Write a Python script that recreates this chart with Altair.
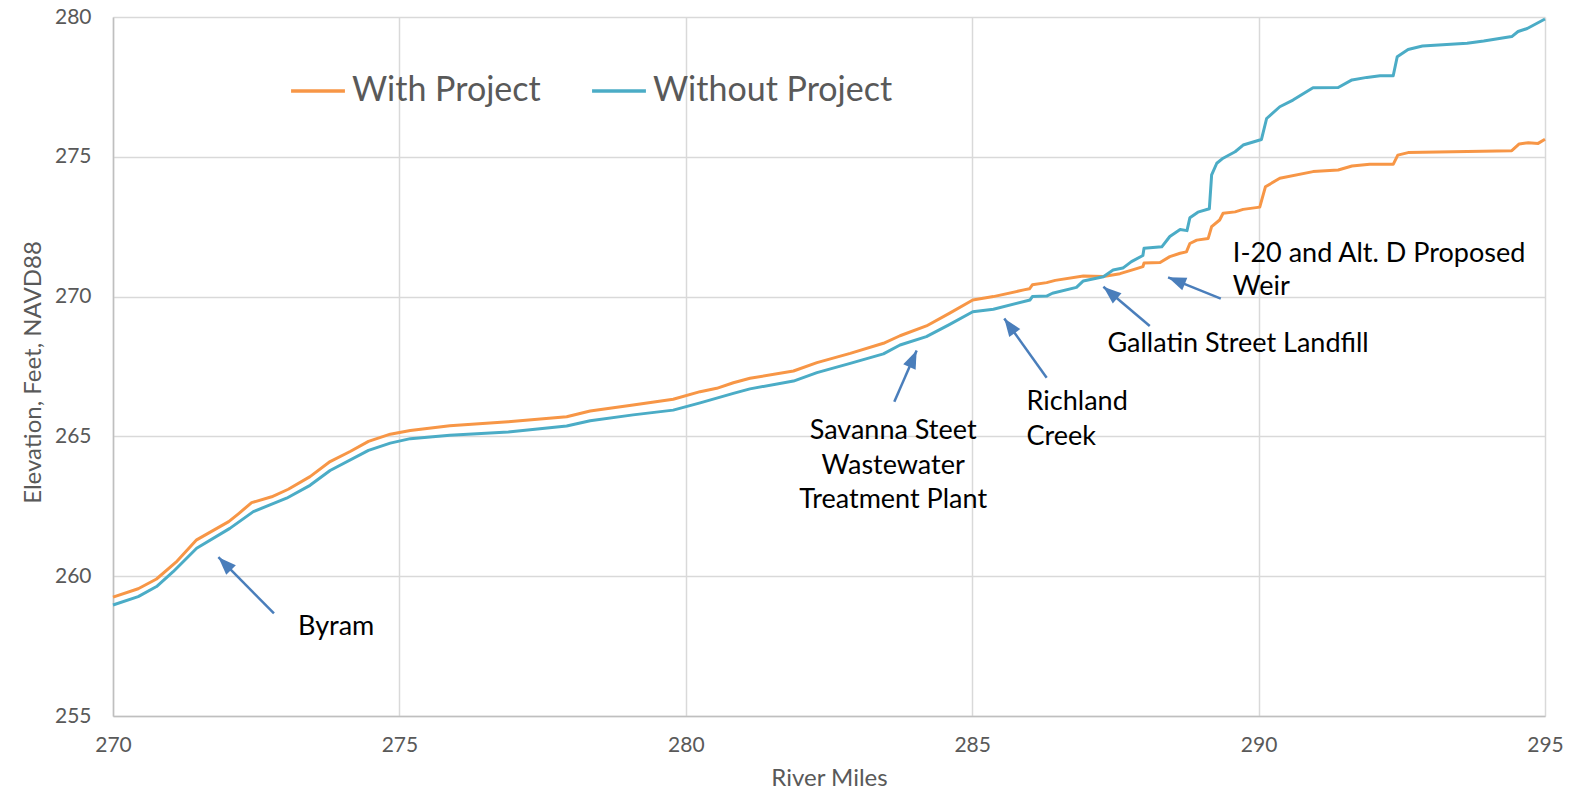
import math
import altair as alt
import pandas as pd

# ---------------- data ----------------
with_miles = [270.0, 270.44, 270.76, 271.1, 271.46, 272.02, 272.2, 272.42, 272.77, 273.06,
              273.44, 273.79, 274.14, 274.46, 274.84, 275.19, 275.88, 276.9, 277.92, 278.33,
              279.08, 279.78, 280.25, 280.54, 280.83, 281.12, 281.88, 282.29, 282.87, 283.45,
              283.74, 284.2, 284.6, 285.01, 285.37, 285.9, 286.0, 286.05, 286.3, 286.45,
              286.94, 287.29, 287.58, 287.87, 287.98, 288.0, 288.28, 288.45, 288.63, 288.74,
              288.8, 288.92, 289.12, 289.18, 289.32, 289.38, 289.59, 289.73, 290.02, 290.12,
              290.37, 290.95, 291.39, 291.63, 291.94, 292.35, 292.43, 292.61, 294.42, 294.55,
              294.71, 294.88, 295.0]
with_elev = [259.25, 259.55, 259.9, 260.5, 261.3, 261.95, 262.25, 262.63, 262.84, 263.11,
             263.56, 264.1, 264.46, 264.82, 265.08, 265.21, 265.38, 265.52, 265.7, 265.91,
             266.12, 266.33, 266.6, 266.72, 266.92, 267.08, 267.34, 267.64, 267.97, 268.33,
             268.6, 268.95, 269.4, 269.88, 270.0, 270.24, 270.28, 270.42, 270.5, 270.58,
             270.74, 270.72, 270.82, 271.0, 271.07, 271.2, 271.22, 271.43, 271.55, 271.6,
             271.9, 272.02, 272.08, 272.5, 272.74, 272.98, 273.03, 273.12, 273.2, 273.93,
             274.23, 274.47, 274.53, 274.67, 274.73, 274.73, 275.06, 275.15, 275.22, 275.46,
             275.5, 275.48, 275.63]

without_miles = [270.0, 270.44, 270.76, 271.05, 271.46, 272.04, 272.45, 272.74, 273.03, 273.44,
                 273.79, 274.46, 274.84, 275.19, 275.88, 276.9, 277.92, 278.33, 279.08, 279.78,
                 280.25, 280.83, 281.12, 281.88, 282.29, 282.87, 283.45, 283.74, 284.2, 284.6,
                 285.01, 285.37, 286.01, 286.05, 286.3, 286.4, 286.82, 286.94, 287.29, 287.46,
                 287.63, 287.78, 287.98, 288.0, 288.31, 288.45, 288.63, 288.75, 288.8, 288.94,
                 289.14, 289.18, 289.27, 289.38, 289.59, 289.73, 290.05, 290.14, 290.37, 290.6,
                 290.95, 291.39, 291.63, 291.89, 292.12, 292.35, 292.42, 292.61, 292.86, 293.64,
                 293.93, 294.42, 294.53, 294.69, 295.0]
without_elev = [258.97, 259.27, 259.63, 260.16, 261.0, 261.71, 262.31, 262.55, 262.79, 263.25,
                263.78, 264.5, 264.76, 264.92, 265.04, 265.16, 265.37, 265.56, 265.77, 265.94,
                266.2, 266.54, 266.7, 266.98, 267.28, 267.61, 267.95, 268.27, 268.57, 269.0,
                269.46, 269.55, 269.88, 270.0, 270.02, 270.12, 270.33, 270.56, 270.71, 270.95,
                271.02, 271.25, 271.47, 271.73, 271.78, 272.15, 272.4, 272.36, 272.82, 273.02,
                273.14, 274.35, 274.77, 274.95, 275.18, 275.42, 275.62, 276.37, 276.79, 277.03,
                277.47, 277.48, 277.75, 277.84, 277.9, 277.9, 278.58, 278.84, 278.96, 279.06,
                279.14, 279.3, 279.48, 279.59, 279.93]

series_names = ["With Project", "Without Project"]
series_colors = ["#F79646", "#4BACC6"]

x_ticks = [270, 275, 280, 285, 290, 295]
y_ticks = [255, 260, 265, 270, 275, 280]

# annotation arrows (tail -> head) in data units
arrow_tail_mile = [272.81, 283.64, 286.30, 288.10, 289.34]
arrow_tail_elev = [258.67, 266.24, 267.10, 268.95, 269.93]
arrow_head_mile = [271.84, 284.03, 285.56, 287.29, 288.42]
arrow_head_elev = [260.68, 268.07, 269.22, 270.35, 270.69]

# annotation text lines
left_labels = ["Byram", "Richland", "Creek", "Gallatin Street Landfill",
               "I-20 and Alt. D Proposed", "Weir"]
left_mile = [273.23, 285.95, 285.95, 287.36, 289.55, 289.55]
left_elev = [258.2, 266.24, 264.97, 268.3, 271.52, 270.33]

center_labels = ["Savanna Steet", "Wastewater", "Treatment Plant"]
center_mile = [283.62, 283.62, 283.62]
center_elev = [265.18, 263.93, 262.74]

# ---------------- layout constants ----------------
W, H = 1432, 699
FONT = "Lato"
GRAY = "#595959"
ARROW = "#4A7EBB"

# ---------------- tables ----------------
lines_df = pd.concat([
    pd.DataFrame({"mile": with_miles, "elev": with_elev, "series": series_names[0]}),
    pd.DataFrame({"mile": without_miles, "elev": without_elev, "series": series_names[1]}),
], ignore_index=True)

px_per_mile = W / 25.0
px_per_ft = H / 25.0
angles = []
for tm, te, hm, he in zip(arrow_tail_mile, arrow_tail_elev, arrow_head_mile, arrow_head_elev):
    dx = (hm - tm) * px_per_mile
    dy = -(he - te) * px_per_ft  # screen coords (down positive)
    ang = math.degrees(math.atan2(dx, -dy)) % 360
    angles.append(ang)

arrows_df = pd.DataFrame({
    "tm": arrow_tail_mile, "te": arrow_tail_elev,
    "hm": arrow_head_mile, "he": arrow_head_elev, "angle": angles,
})
left_df = pd.DataFrame({"label": left_labels, "mile": left_mile, "elev": left_elev})
center_df = pd.DataFrame({"label": center_labels, "mile": center_mile, "elev": center_elev})

xscale = alt.Scale(domain=[270, 295], nice=False, zero=False)
yscale = alt.Scale(domain=[255, 280], nice=False, zero=False)

lines = alt.Chart(lines_df).mark_line(strokeWidth=3, strokeJoin="round").encode(
    x=alt.X("mile:Q", scale=xscale, title="River Miles",
            axis=alt.Axis(values=x_ticks, format="d", ticks=False, labelPadding=18,
                          labelFlush=False, titleY=62, titleBaseline="middle")),
    y=alt.Y("elev:Q", scale=yscale, title="Elevation, Feet, NAVD88",
            axis=alt.Axis(values=y_ticks, format="d", ticks=False, labelPadding=22,
                          labelFlush=False, titleX=-80, titleY=355,
                          titleBaseline="middle")),
    color=alt.Color("series:N",
                    scale=alt.Scale(domain=series_names, range=series_colors),
                    legend=alt.Legend(title=None, orient="none", direction="horizontal",
                                      legendX=176, legendY=45,
                                      symbolType="stroke", symbolSize=2900,
                                      symbolStrokeWidth=3.5, labelFontSize=34,
                                      labelColor=GRAY, labelFont=FONT, labelOffset=5,
                                      columnPadding=44, labelLimit=400)),
    detail="series:N",
    order=alt.Order("mile:Q"),
)

shafts = alt.Chart(arrows_df).mark_rule(color=ARROW, strokeWidth=2.5).encode(
    x="tm:Q", y="te:Q", x2="hm:Q", y2="he:Q",
)

heads = alt.Chart(arrows_df).mark_point(
    shape="M0,0L0.75,2L-0.75,2Z", filled=True, size=324, color=ARROW, opacity=1,
).encode(
    x="hm:Q", y="he:Q", angle=alt.Angle("angle:Q", scale=None),
)

left_text = alt.Chart(left_df).mark_text(
    align="left", baseline="middle", font=FONT, fontSize=27, color="#000000",
).encode(x="mile:Q", y="elev:Q", text="label:N")

center_text = alt.Chart(center_df).mark_text(
    align="center", baseline="middle", font=FONT, fontSize=27, color="#000000",
).encode(x="mile:Q", y="elev:Q", text="label:N")

chart = alt.layer(lines, shafts, heads, left_text, center_text).properties(
    width=W, height=H,
    autosize=alt.AutoSizeParams(type="none"),
    padding={"left": 105, "top": 9, "right": 30, "bottom": 74},
).configure_view(
    stroke=None,
).configure_axis(
    labelFont=FONT, labelFontSize=21, labelColor=GRAY,
    titleFont=FONT, titleFontSize=24, titleColor=GRAY, titleFontWeight="normal",
    grid=True, gridColor="#D9D9D9", gridWidth=1.5,
    domainColor="#BFBFBF", domainWidth=1.5,
)

chart.save("out.html", embed_options={"renderer": "svg", "actions": False})
